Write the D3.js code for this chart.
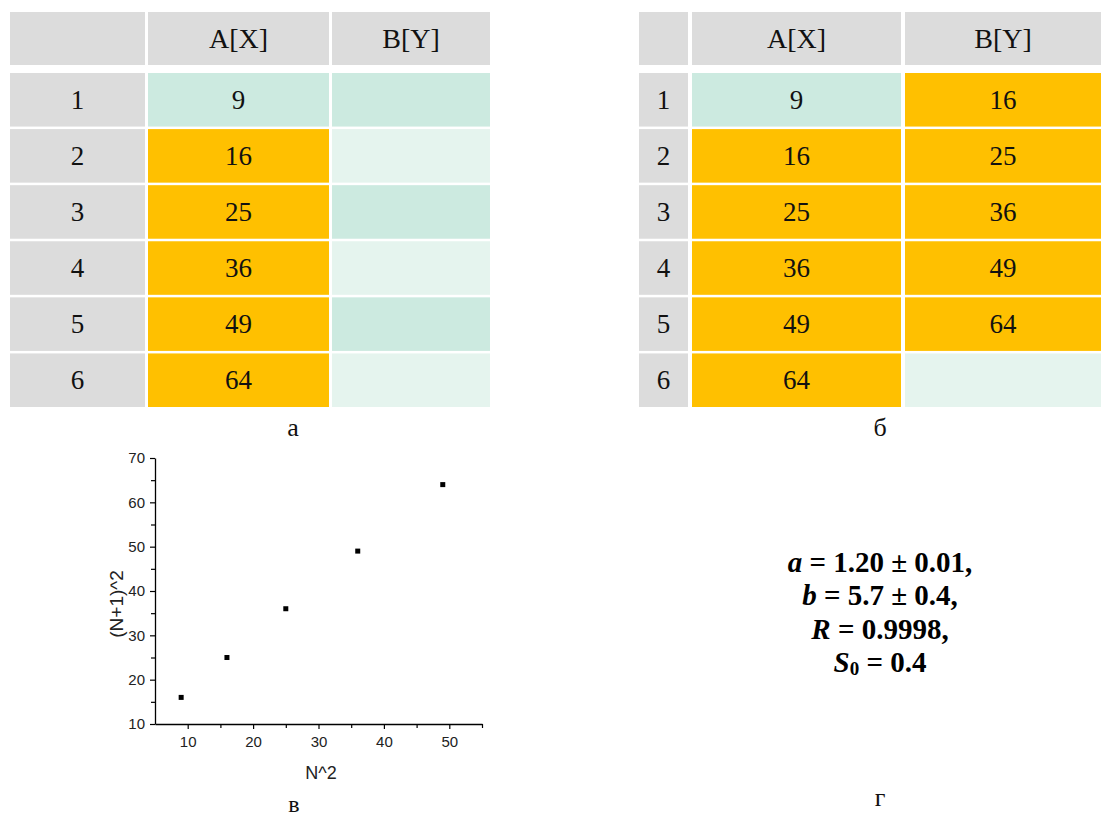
<!DOCTYPE html>
<html>
<head>
<meta charset="utf-8">
<script src="https://cdn.jsdelivr.net/npm/d3@7"></script>
<style>
  html, body { margin: 0; padding: 0; background: #fff; }
  svg { display: block; }
</style>
</head>
<body>
<svg id="fig" width="1101" height="818"></svg>
<script>
// Table contents
const rowIds = [1, 2, 3, 4, 5, 6];
const colHeaders = ["A[X]", "B[Y]"];
const colA = [9, 16, 25, 36, 49, 64];
const colB_left = [null, null, null, null, null, null];
const colB_right = [16, 25, 36, 49, 64, null];
// Cell states: "sel" = selected (orange), "first"/"alt0"/"alt1" = mint shades
const stateA = ["first", "sel", "sel", "sel", "sel", "sel"];
const stateB_left = ["alt0", "alt1", "alt0", "alt1", "alt0", "alt1"];
const stateB_right = ["sel", "sel", "sel", "sel", "sel", "alt1"];

// Scatter data
const xN2 = [9, 16, 25, 36, 49];
const yN1sq = [16, 25, 36, 49, 64];
const xTicks = [10, 20, 30, 40, 50];
const yTicks = [10, 20, 30, 40, 50, 60, 70];

// Fit results
const fitLines = [
  { sym: "a", sub: "", rest: " = 1.20 ± 0.01," },
  { sym: "b", sub: "", rest: " = 5.7 ± 0.4," },
  { sym: "R", sub: "", rest: " = 0.9998," },
  { sym: "S", sub: "0", rest: " = 0.4" }
];

const panelLabels = ["а", "б", "в", "г"];

const colors = {
  header: "#dcdcdc",
  sel: "#ffc000",
  first: "#cceae0",
  alt0: "#cceae0",
  alt1: "#e5f4ee"
};

const svg = d3.select("#fig");
const serif = "'Liberation Serif', 'Times New Roman', serif";
const sans = "'Liberation Sans', Arial, sans-serif";

function drawTable(g, cols, valsB, statesB) {
  const y = d3.scaleBand().domain(rowIds).range([73, 407]).paddingInner(0.045);
  const headerTop = 12, headerBottom = 65;

  cols.forEach((c, i) => {
    g.append("rect").attr("x", c[0]).attr("y", headerTop)
      .attr("width", c[1] - c[0]).attr("height", headerBottom - headerTop)
      .attr("fill", colors.header);
    if (i > 0) {
      g.append("text").attr("x", (c[0] + c[1]) / 2).attr("y", (headerTop + headerBottom) / 2)
        .attr("text-anchor", "middle").attr("dominant-baseline", "central")
        .attr("font-family", serif).attr("font-size", 28).attr("fill", "#111")
        .text(colHeaders[i - 1]);
    }
  });

  rowIds.forEach((r, i) => {
    const yy = y(r), h = y.bandwidth();
    const cells = [
      { c: cols[0], fill: colors.header, txt: r },
      { c: cols[1], fill: colors[stateA[i]], txt: colA[i] },
      { c: cols[2], fill: colors[statesB[i]], txt: valsB[i] }
    ];
    cells.forEach(cell => {
      g.append("rect").attr("x", cell.c[0]).attr("y", yy)
        .attr("width", cell.c[1] - cell.c[0]).attr("height", h)
        .attr("fill", cell.fill);
      if (cell.txt !== null && cell.txt !== undefined) {
        g.append("text").attr("x", (cell.c[0] + cell.c[1]) / 2).attr("y", yy + h / 2)
          .attr("text-anchor", "middle").attr("dominant-baseline", "central")
          .attr("font-family", serif).attr("font-size", 27).attr("fill", "#111")
          .text(cell.txt);
      }
    });
  });
}

drawTable(svg.append("g"), [[10, 145], [148, 329], [332, 490]], colB_left, stateB_left);
drawTable(svg.append("g"), [[639, 688], [692, 901], [905, 1101]], colB_right, stateB_right);

// Panel labels (alphabetic baseline)
const labelPos = [[293, 436], [880, 436], [294, 812], [880, 806]];
panelLabels.forEach((t, i) => {
  svg.append("text").attr("x", labelPos[i][0]).attr("y", labelPos[i][1])
    .attr("text-anchor", "middle")
    .attr("font-family", serif).attr("font-size", i === 2 ? 24 : 26).attr("fill", "#111")
    .text(t);
});

// Scatter plot
const x = d3.scaleLinear().domain([5, 55]).range([155, 482]);
const y = d3.scaleLinear().domain([10, 70]).range([724, 458]);
const plot = svg.append("g");

const xAxis = plot.append("g").attr("transform", `translate(0,${y(10)})`)
  .call(d3.axisBottom(x).tickValues(xTicks).tickSize(5).tickPadding(7).tickSizeOuter(0));
const xMinor = plot.append("g").attr("transform", `translate(0,${y(10)})`)
  .call(d3.axisBottom(x).tickValues([15, 25, 35, 45, 55]).tickSize(4).tickFormat(""));
const yAxis = plot.append("g").attr("transform", `translate(${x(5)},0)`)
  .call(d3.axisLeft(y).tickValues(yTicks).tickSize(5).tickPadding(5).tickSizeOuter(0));
const yMinor = plot.append("g").attr("transform", `translate(${x(5)},0)`)
  .call(d3.axisLeft(y).tickValues([15, 25, 35, 45, 55, 65]).tickSize(4).tickFormat(""));

[xAxis, xMinor, yAxis, yMinor].forEach(a => {
  a.attr("font-size", 15);
  a.select(".domain").attr("stroke", "#000").attr("stroke-width", 1.3);
  a.selectAll(".tick line").attr("stroke", "#000").attr("stroke-width", 1.2);
  a.selectAll(".tick text").attr("font-family", sans).attr("font-size", 15).attr("fill", "#222");
});
xMinor.select(".domain").remove();
yMinor.select(".domain").remove();

plot.selectAll("rect.pt").data(xN2.map((v, i) => [v, yN1sq[i]])).join("rect")
  .attr("class", "pt")
  .attr("x", d => x(d[0]) - 2.5).attr("y", d => y(d[1]) - 2.5)
  .attr("width", 5).attr("height", 5).attr("fill", "#000");

plot.append("text").attr("x", 321).attr("y", 773)
  .attr("text-anchor", "middle").attr("dominant-baseline", "central")
  .attr("font-family", sans).attr("font-size", 18).attr("fill", "#222")
  .text("N^2");
plot.append("text")
  .attr("transform", "translate(116,604) rotate(-90)")
  .attr("text-anchor", "middle").attr("dominant-baseline", "central")
  .attr("font-family", sans).attr("font-size", 19).attr("fill", "#222")
  .text("(N+1)^2");

// Fit parameters
const fit = svg.append("g");
const lineY = d3.scalePoint().domain(d3.range(fitLines.length)).range([562, 662]);
fitLines.forEach((l, i) => {
  const t = fit.append("text").attr("x", 880).attr("y", lineY(i))
    .attr("text-anchor", "middle").attr("dominant-baseline", "central")
    .attr("font-family", serif).attr("font-size", 29).attr("font-weight", "bold").attr("fill", "#000");
  t.append("tspan").attr("font-style", "italic").text(l.sym);
  if (l.sub) t.append("tspan").attr("font-size", 19).attr("dy", 6).text(l.sub);
  t.append("tspan").attr("dy", l.sub ? -6 : 0).text(l.rest);
});
</script>
</body>
</html>
